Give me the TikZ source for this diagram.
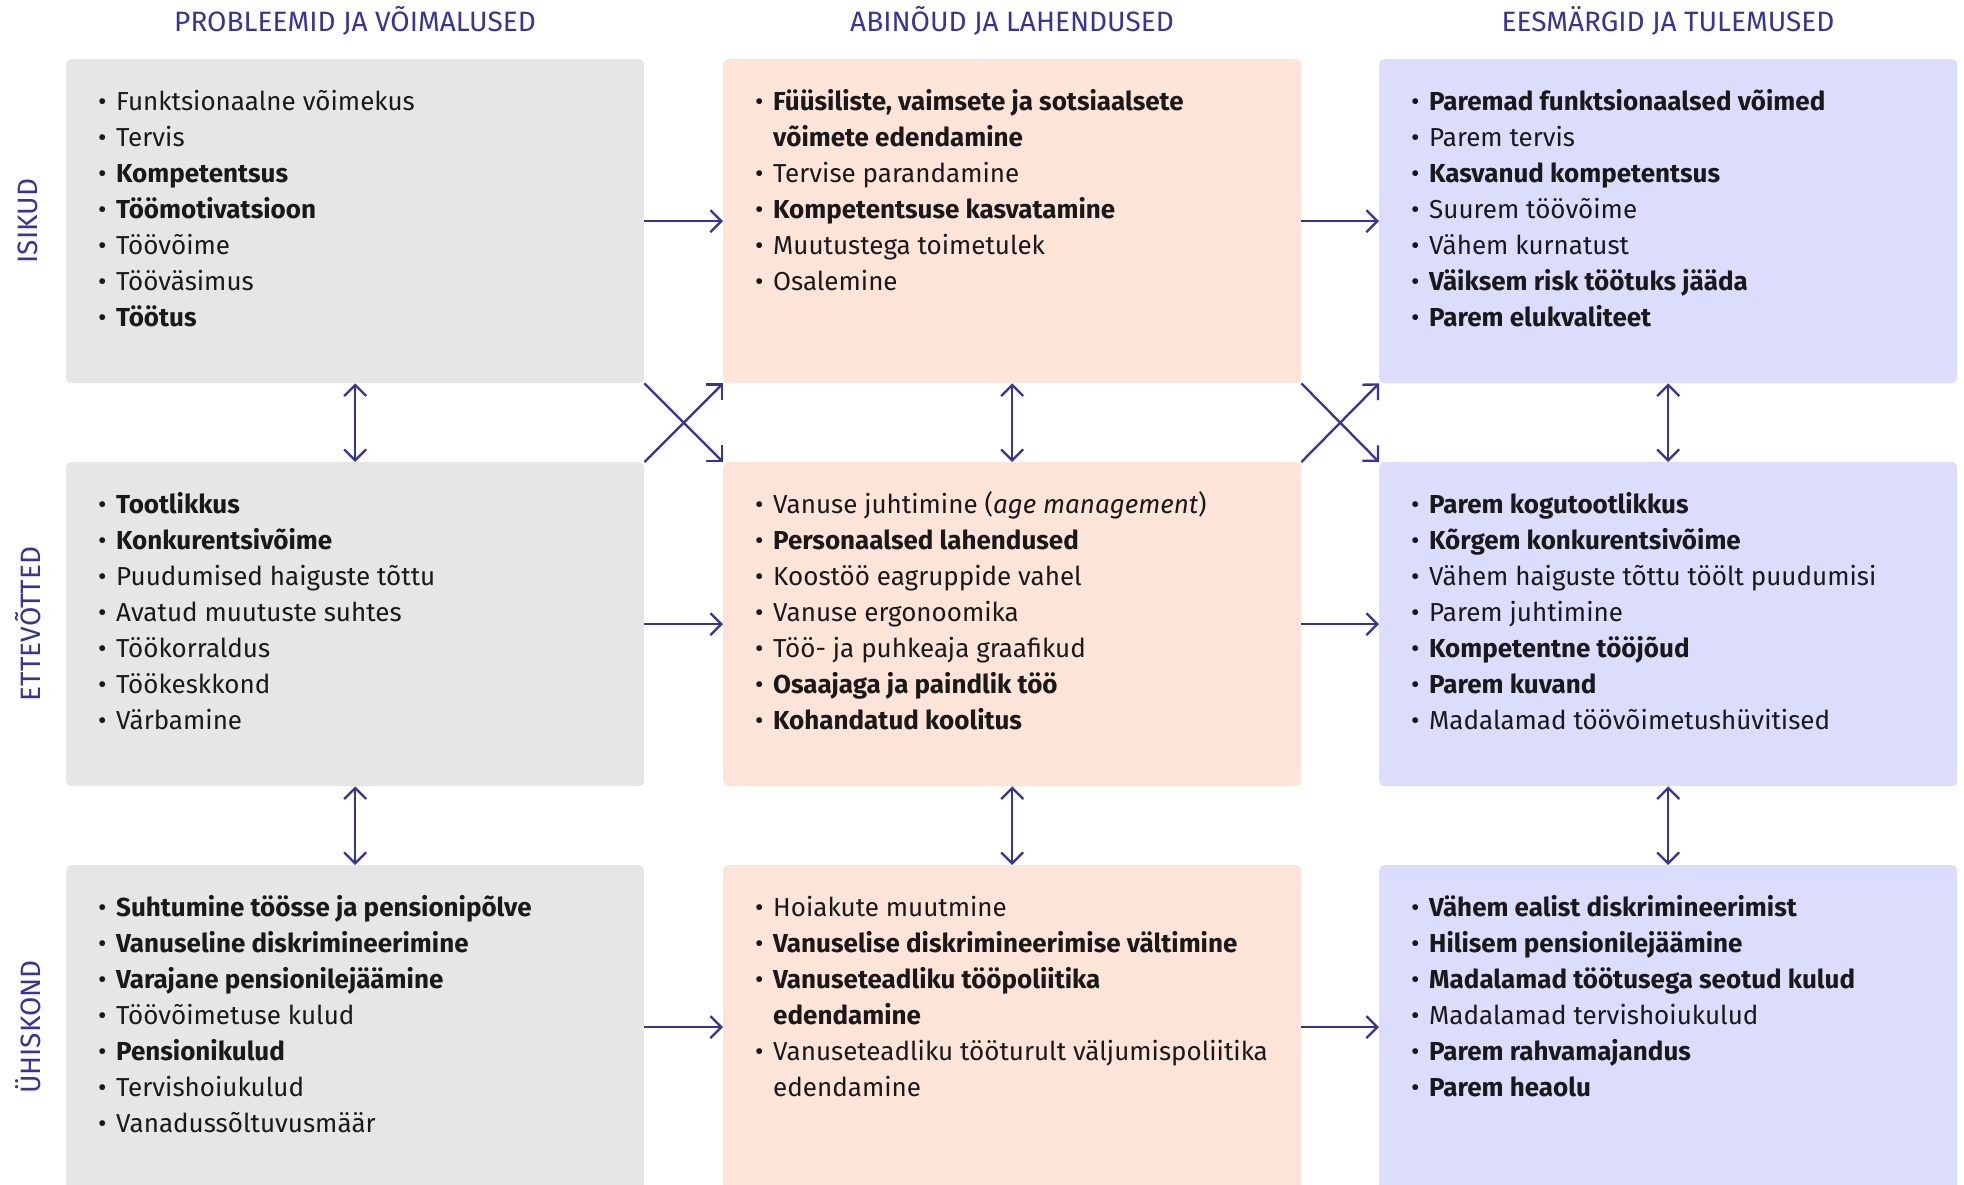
\documentclass[tikz,border=0pt]{standalone}
\usepackage{fontspec}
\setmainfont{Fira Sans}
\usetikzlibrary{arrows.meta}

\definecolor{navy}{RGB}{52,52,160}
\definecolor{probfill}{RGB}{230,230,230}
\definecolor{abifill}{RGB}{253,228,216}
\definecolor{eesfill}{RGB}{220,220,252}

\newcommand{\bitem}[1]{\strut\makebox[18pt][l]{\textbullet}#1}
\newcommand{\bcont}[1]{\strut\hspace*{18pt}#1}

\begin{document}
\begin{tikzpicture}[x=1pt, y=-1pt,
    >={Straight Barb[length=11pt, width=22pt]},
    box/.style={rectangle, rounded corners=5pt, anchor=north west, inner sep=0pt,
        minimum width=578pt, minimum height=324pt},
    listtext/.style={anchor=north west, inner sep=0pt, align=left, text=black!90,
        font=\fontsize{26}{36}\selectfont},
    head/.style={anchor=base, text=navy, font=\fontsize{28}{32}\selectfont},
    side/.style={rotate=90, text=navy, font=\fontsize{28}{32}\selectfont},
    link/.style={->, draw=navy, line width=2.3pt}]
    \useasboundingbox (0,0) rectangle (1964,1184);

    % Column headings
    \node[head] (H1) at (355,31.7) {PROBLEEMID JA VÕIMALUSED};
    \node[head] (H2) at (1012,31.7) {ABINÕUD JA LAHENDUSED};
    \node[head] (H3) at (1668,31.7) {EESMÄRGID JA TULEMUSED};

    % Row labels
    \node[side] (S1) at (28,221) {ISIKUD};
    \node[side] (S2) at (28,624) {ETTEVÕTTED};
    \node[side] (S3) at (28,1027) {ÜHISKOND};

    % Boxes
    \foreach \c/\x/\clr in {P/66/probfill, A/723/abifill, E/1379/eesfill}
        \foreach \r/\y in {1/59, 2/462, 3/865}
            \node[box, fill=\clr] (\c\r) at (\x,\y) {};

    % Isikud
    \node[listtext] (P1t) at ([shift={(32,26)}]P1.north west) {%
        \bitem{Funktsionaalne võimekus}\\
        \bitem{Tervis}\\
        \bitem{\textbf{Kompetentsus}}\\
        \bitem{\textbf{Töömotivatsioon}}\\
        \bitem{Töövõime}\\
        \bitem{Tööväsimus}\\
        \bitem{\textbf{Töötus}}};
    \node[listtext] (A1t) at ([shift={(32,26)}]A1.north west) {%
        \bitem{\textbf{Füüsiliste, vaimsete ja sotsiaalsete}}\\
        \bcont{\textbf{võimete edendamine}}\\
        \bitem{Tervise parandamine}\\
        \bitem{\textbf{Kompetentsuse kasvatamine}}\\
        \bitem{Muutustega toimetulek}\\
        \bitem{Osalemine}};
    \node[listtext] (E1t) at ([shift={(32,26)}]E1.north west) {%
        \bitem{\textbf{Paremad funktsionaalsed võimed}}\\
        \bitem{Parem tervis}\\
        \bitem{\textbf{Kasvanud kompetentsus}}\\
        \bitem{Suurem töövõime}\\
        \bitem{Vähem kurnatust}\\
        \bitem{\textbf{Väiksem risk töötuks jääda}}\\
        \bitem{\textbf{Parem elukvaliteet}}};

    % Ettevotted
    \node[listtext] (P2t) at ([shift={(32,26)}]P2.north west) {%
        \bitem{\textbf{Tootlikkus}}\\
        \bitem{\textbf{Konkurentsivõime}}\\
        \bitem{Puudumised haiguste tõttu}\\
        \bitem{Avatud muutuste suhtes}\\
        \bitem{Töökorraldus}\\
        \bitem{Töökeskkond}\\
        \bitem{Värbamine}};
    \node[listtext] (A2t) at ([shift={(32,26)}]A2.north west) {%
        \bitem{Vanuse juhtimine (\textit{age management})}\\
        \bitem{\textbf{Personaalsed lahendused}}\\
        \bitem{Koostöö eagruppide vahel}\\
        \bitem{Vanuse ergonoomika}\\
        \bitem{Töö- ja puhkeaja graafikud}\\
        \bitem{\textbf{Osaajaga ja paindlik töö}}\\
        \bitem{\textbf{Kohandatud koolitus}}};
    \node[listtext] (E2t) at ([shift={(32,26)}]E2.north west) {%
        \bitem{\textbf{Parem kogutootlikkus}}\\
        \bitem{\textbf{Kõrgem konkurentsivõime}}\\
        \bitem{Vähem haiguste tõttu töölt puudumisi}\\
        \bitem{Parem juhtimine}\\
        \bitem{\textbf{Kompetentne tööjõud}}\\
        \bitem{\textbf{Parem kuvand}}\\
        \bitem{Madalamad töövõimetushüvitised}};

    % Uhiskond
    \node[listtext] (P3t) at ([shift={(32,26)}]P3.north west) {%
        \bitem{\textbf{Suhtumine töösse ja pensionipõlve}}\\
        \bitem{\textbf{Vanuseline diskrimineerimine}}\\
        \bitem{\textbf{Varajane pensionilejäämine}}\\
        \bitem{Töövõimetuse kulud}\\
        \bitem{\textbf{Pensionikulud}}\\
        \bitem{Tervishoiukulud}\\
        \bitem{Vanadussõltuvusmäär}};
    \node[listtext] (A3t) at ([shift={(32,26)}]A3.north west) {%
        \bitem{Hoiakute muutmine}\\
        \bitem{\textbf{Vanuselise diskrimineerimise vältimine}}\\
        \bitem{\textbf{Vanuseteadliku tööpoliitika}}\\
        \bcont{\textbf{edendamine}}\\
        \bitem{Vanuseteadliku tööturult väljumispoliitika}\\
        \bcont{edendamine}};
    \node[listtext] (E3t) at ([shift={(32,26)}]E3.north west) {%
        \bitem{\textbf{Vähem ealist diskrimineerimist}}\\
        \bitem{\textbf{Hilisem pensionilejäämine}}\\
        \bitem{\textbf{Madalamad töötusega seotud kulud}}\\
        \bitem{Madalamad tervishoiukulud}\\
        \bitem{\textbf{Parem rahvamajandus}}\\
        \bitem{\textbf{Parem heaolu}}};

    % Arrows along each row
    \foreach \r in {1,2,3} {
        \draw[link] (P\r) -- (A\r);
        \draw[link] (A\r) -- (E\r);
    }

    % Arrows between rows
    \foreach \c in {P,A,E} {
        \draw[link, <->] (\c1) -- (\c2);
        \draw[link, <->] (\c2) -- (\c3);
    }

    % Crossing arrows
    \draw[link] (P1.south east) -- (A2.north west);
    \draw[link] (P2.north east) -- (A1.south west);
    \draw[link] (A1.south east) -- (E2.north west);
    \draw[link] (A2.north east) -- (E1.south west);
\end{tikzpicture}
\end{document}
